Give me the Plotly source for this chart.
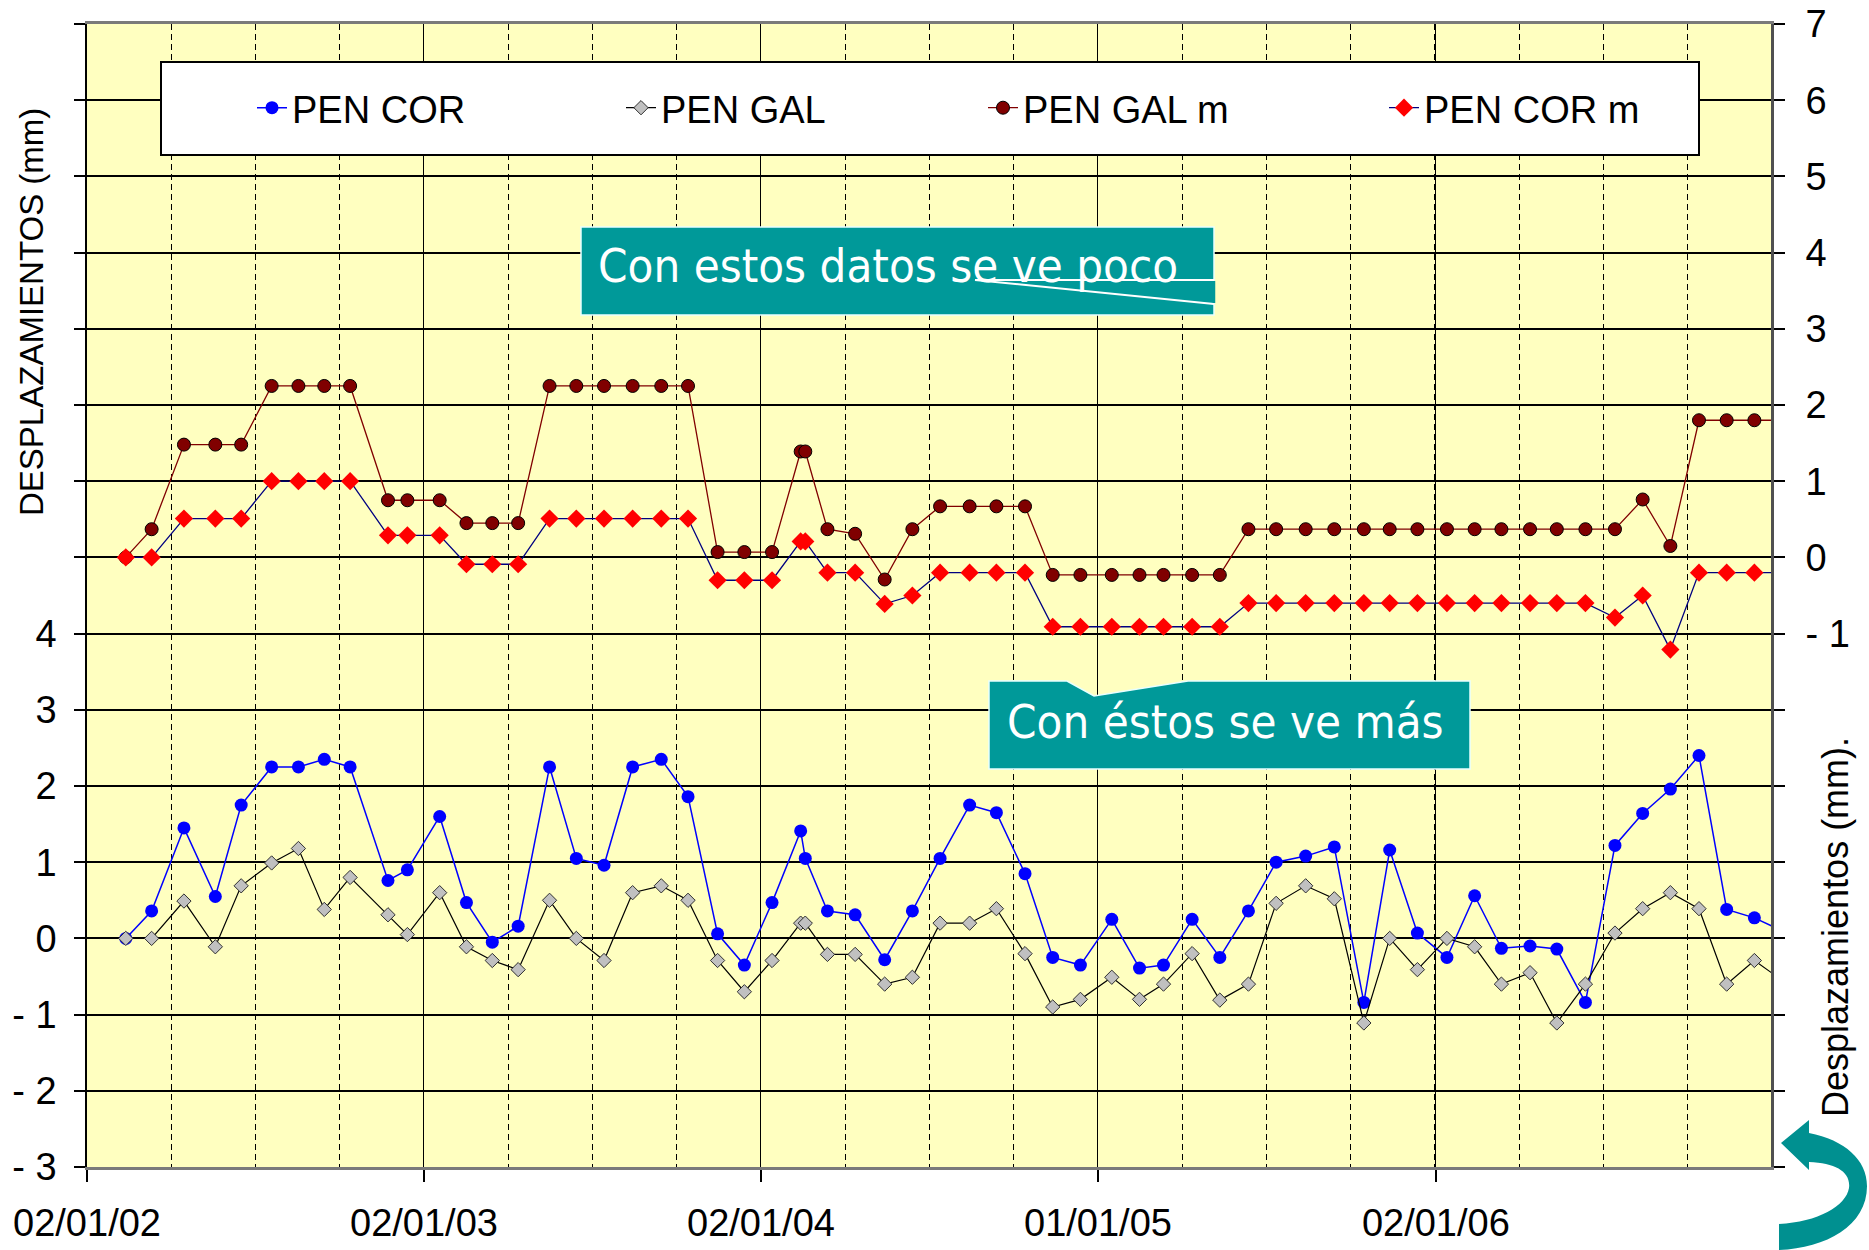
import plotly.graph_objects as go

# ---------------- data ----------------
dates = [
    "2002-02-13", "2002-03-13", "2002-04-17", "2002-05-21", "2002-06-18",
    "2002-07-21", "2002-08-19", "2002-09-16", "2002-10-14", "2002-11-24",
    "2002-12-15", "2003-01-19", "2003-02-17", "2003-03-17", "2003-04-14",
    "2003-05-18", "2003-06-16", "2003-07-16", "2003-08-16", "2003-09-16",
    "2003-10-15", "2003-11-16", "2003-12-15", "2004-01-14", "2004-02-14",
    "2004-02-19", "2004-03-14", "2004-04-13", "2004-05-15", "2004-06-14",
    "2004-07-14", "2004-08-15", "2004-09-13", "2004-10-14", "2004-11-13",
    "2004-12-13", "2005-01-16", "2005-02-15", "2005-03-13", "2005-04-13",
    "2005-05-13", "2005-06-13", "2005-07-13", "2005-08-14", "2005-09-14",
    "2005-10-16", "2005-11-13", "2005-12-13", "2006-01-14", "2006-02-13",
    "2006-03-14", "2006-04-14", "2006-05-13", "2006-06-13", "2006-07-15",
    "2006-08-14", "2006-09-13", "2006-10-14", "2006-11-13", "2006-12-13",
    "2007-01-12",
]

pen_cor = [
    0.00, 0.36, 1.45, 0.55, 1.75, 2.25, 2.25, 2.35, 2.25, 0.76,
    0.90, 1.60, 0.47, -0.05, 0.16, 2.25, 1.05, 0.96, 2.25, 2.35,
    1.86, 0.06, -0.35, 0.47, 1.41, 1.05, 0.36, 0.31, -0.28, 0.36,
    1.05, 1.75, 1.65, 0.85, -0.25, -0.35, 0.25, -0.39, -0.35, 0.25,
    -0.25, 0.36, 1.00, 1.08, 1.20, -0.84, 1.16, 0.07, -0.25, 0.56,
    -0.13, -0.10, -0.14, -0.84, 1.22, 1.64, 1.96, 2.40, 0.38, 0.27,
    0.10,
]

pen_gal = [
    0.00, 0.00, 0.49, -0.11, 0.69, 0.99, 1.18, 0.38, 0.80, 0.31,
    0.05, 0.60, -0.11, -0.29, -0.41, 0.50, 0.00, -0.29, 0.60, 0.69,
    0.50, -0.29, -0.70, -0.29, 0.20, 0.20, -0.21, -0.21, -0.60, -0.51,
    0.20, 0.20, 0.39, -0.20, -0.90, -0.80, -0.51, -0.80, -0.60, -0.20,
    -0.81, -0.60, 0.46, 0.69, 0.52, -1.11, 0.00, -0.41, 0.00, -0.11,
    -0.60, -0.45, -1.11, -0.60, 0.07, 0.39, 0.60, 0.39, -0.60, -0.29,
    -0.55,
]

pen_gal_m = [
    0.00, 0.37, 1.48, 1.48, 1.48, 2.25, 2.25, 2.25, 2.25, 0.75,
    0.75, 0.75, 0.45, 0.45, 0.45, 2.25, 2.25, 2.25, 2.25, 2.25,
    2.25, 0.07, 0.07, 0.07, 1.39, 1.39, 0.37, 0.31, -0.29, 0.37,
    0.67, 0.67, 0.67, 0.67, -0.23, -0.23, -0.23, -0.23, -0.23, -0.23,
    -0.23, 0.37, 0.37, 0.37, 0.37, 0.37, 0.37, 0.37, 0.37, 0.37,
    0.37, 0.37, 0.37, 0.37, 0.37, 0.76, 0.15, 1.80, 1.80, 1.80,
    1.80,
]

pen_cor_m = [
    0.00, 0.00, 0.51, 0.51, 0.51, 1.00, 1.00, 1.00, 1.00, 0.29,
    0.29, 0.29, -0.09, -0.09, -0.09, 0.51, 0.51, 0.51, 0.51, 0.51,
    0.51, -0.30, -0.30, -0.30, 0.21, 0.21, -0.20, -0.20, -0.61, -0.50,
    -0.20, -0.20, -0.20, -0.20, -0.91, -0.91, -0.91, -0.91, -0.91, -0.91,
    -0.91, -0.60, -0.60, -0.60, -0.60, -0.60, -0.60, -0.60, -0.60, -0.60,
    -0.60, -0.60, -0.60, -0.60, -0.79, -0.50, -1.21, -0.20, -0.20, -0.20,
    -0.20,
]

left_tick_vals = list(range(-3, 13))
left_tick_text = ["- 3", "- 2", "- 1", "0", "1", "2", "3", "4"] + [""] * 8
right_tick_vals = list(range(-8, 8))
right_tick_text = [""] * 7 + ["- 1", "0", "1", "2", "3", "4", "5", "6", "7"]
x_tick_vals = ["2002-01-02", "2003-01-02", "2004-01-02", "2005-01-01", "2006-01-02"]
x_tick_text = ["02/01/02", "02/01/03", "02/01/04", "01/01/05", "02/01/06"]
x_range = ["2002-01-02", "2006-12-31"]

# ---------------- geometry helpers ----------------
W, H = 1869, 1250
PL, PT, PR, PB = 87, 24, 1771, 1167   # plot area on screen
ML, MT = PL, PT
MR, MB = W - PR, H - PB
PW = PR - PL
PH = PB - PT


def px(x):
    return (x - PL) / PW


def py(y):
    return (PB - y) / PH


def path(cmds):
    out = []
    for c in cmds:
        if isinstance(c, str):
            out.append(c)
        else:
            out.append("%.5f,%.5f" % (px(c[0]), py(c[1])))
    return " ".join(out)


ARIAL = "Liberation Sans, Arial, sans-serif"
CALLOUT_FONT = "DejaVu Sans Condensed, Noto Sans, sans-serif"
TEAL = "#009999"

fig = go.Figure()
fig.add_trace(go.Scatter(
    x=dates, y=pen_cor, name="PEN COR", mode="lines+markers",
    line=dict(color="#0000FF", width=1.5),
    marker=dict(symbol="circle", size=13, color="#0000FF"),
    yaxis="y", legend="legend"))
fig.add_trace(go.Scatter(
    x=dates, y=pen_gal, name="PEN GAL", mode="lines+markers",
    line=dict(color="#000000", width=1.2),
    marker=dict(symbol="diamond", size=11, color="#C0C0C0",
                line=dict(color="#303030", width=1)),
    yaxis="y", legend="legend2"))
fig.add_trace(go.Scatter(
    x=dates, y=pen_gal_m, name="PEN GAL m", mode="lines+markers",
    line=dict(color="#800000", width=1.3),
    marker=dict(symbol="circle", size=13, color="#800000",
                line=dict(color="#000000", width=1)),
    yaxis="y2", legend="legend3"))
fig.add_trace(go.Scatter(
    x=dates, y=pen_cor_m, name="PEN COR m", mode="lines+markers",
    line=dict(color="#000080", width=1.3),
    marker=dict(symbol="diamond", size=14, color="#FF0000"),
    yaxis="y2", legend="legend4"))

tickfont = dict(family=ARIAL, size=38, color="black")

legend_common = dict(
    orientation="h", xanchor="left", yanchor="middle",
    bgcolor="rgba(0,0,0,0)", borderwidth=0,
    font=dict(family=ARIAL, size=38, color="black"),
)
leg_y = py(108)

shapes = [
    # legend box
    dict(type="rect", xref="paper", yref="paper",
         x0=px(161), x1=px(1699), y0=py(155), y1=py(62),
         fillcolor="white", line=dict(color="black", width=2), layer="above"),
    # callout 1 box
    dict(type="rect", xref="paper", yref="paper",
         x0=px(581), x1=px(1214), y0=py(315), y1=py(227),
         fillcolor=TEAL, line=dict(color="#E8FFFF", width=1.5), layer="above"),
    dict(type="path", xref="paper", yref="paper",
         path=path(["M", (975, 280), "L", (1214, 280)]),
         line=dict(color="white", width=2), layer="above"),
    dict(type="path", xref="paper", yref="paper",
         path=path(["M", (975, 280), "L", (1214, 304)]),
         line=dict(color="white", width=2), layer="above"),
    dict(type="path", xref="paper", yref="paper",
         path=path(["M", (1214, 281), "L", (1214, 303)]),
         line=dict(color=TEAL, width=2.5), layer="above"),
    # callout 2 with notch
    dict(type="path", xref="paper", yref="paper",
         path=path(["M", (989, 681), "L", (1067, 681), "L", (1094, 696),
                    "L", (1188, 681), "L", (1470, 681), "L", (1470, 769),
                    "L", (989, 769), "Z"]),
         fillcolor=TEAL, line=dict(color="#E8FFFF", width=1.5), layer="above"),
    # curved arrow
    dict(type="path", xref="paper", yref="paper",
         path=path(["M", (1781, 1143), "L", (1809, 1120), "L", (1809, 1133),
                    "C", (1845, 1140), (1867, 1160), (1867, 1186),
                    "C", (1867, 1226), (1826, 1248), (1779, 1250),
                    "L", (1779, 1224),
                    "C", (1818, 1222), (1846, 1206), (1849, 1188),
                    "C", (1851, 1172), (1836, 1163), (1809, 1162),
                    "L", (1809, 1170), "Z"]),
         fillcolor="#009090", line=dict(width=0), layer="above"),
]

annotations = [
    dict(text="DESPLAZAMIENTOS (mm)", xref="paper", yref="paper",
         x=px(31), y=py(312), textangle=-90, showarrow=False,
         xanchor="center", yanchor="middle",
         font=dict(family=ARIAL, size=33, color="black")),
    dict(text="Desplazamientos (mm).", xref="paper", yref="paper",
         x=px(1835), y=py(927), textangle=-90, showarrow=False,
         xanchor="center", yanchor="middle",
         font=dict(family=ARIAL, size=36, color="black")),
    dict(text="Con estos datos se ve poco", xref="paper", yref="paper",
         x=px(596), y=py(265), showarrow=False,
         xanchor="left", yanchor="middle",
         font=dict(family=CALLOUT_FONT, size=47, color="white")),
    dict(text="Con éstos se ve más", xref="paper", yref="paper",
         x=px(1005), y=py(721), showarrow=False,
         xanchor="left", yanchor="middle",
         font=dict(family=CALLOUT_FONT, size=47, color="white")),
]

fig.update_layout(
    width=W, height=H,
    margin=dict(l=ML, r=MR, t=MT, b=MB, pad=0, autoexpand=False),
    paper_bgcolor="white",
    plot_bgcolor="#FFFFC0",
    showlegend=True,
    legend=dict(legend_common, x=px(252), y=leg_y),
    legend2=dict(legend_common, x=px(621), y=leg_y),
    legend3=dict(legend_common, x=px(983), y=leg_y),
    legend4=dict(legend_common, x=px(1384), y=leg_y),
    xaxis=dict(
        type="date", range=x_range, automargin=False,
        tickmode="array", tickvals=x_tick_vals, ticktext=x_tick_text,
        ticks="outside", ticklen=12, tickwidth=1.5, tickcolor="black",
        tickfont=tickfont, ticklabelstandoff=9, ticklabeloverflow="allow",
        showgrid=True, gridcolor="black", gridwidth=1.3,
        showline=True, linecolor="#7a7a7a", linewidth=2.5, mirror=True,
        zeroline=False,
        minor=dict(tickmode="linear", tick0="2002-01-02",
                   dtick=91.25 * 86400000, showgrid=True,
                   gridcolor="black", gridwidth=1.2, griddash="6px,4px",
                   ticks=""),
    ),
    yaxis=dict(
        range=[-3, 12], tickmode="array", automargin=False,
        tickvals=left_tick_vals, ticktext=left_tick_text,
        ticks="outside", ticklen=11, tickwidth=1.5, tickcolor="black",
        tickfont=tickfont, ticklabelstandoff=10, ticklabeloverflow="allow",
        showgrid=True, gridcolor="black", gridwidth=1.6,
        showline=True, linecolor="black", linewidth=1.5,
        zeroline=False,
    ),
    yaxis2=dict(
        range=[-8, 7], overlaying="y", side="right", tickmode="array",
        automargin=False,
        tickvals=right_tick_vals, ticktext=right_tick_text,
        ticks="outside", ticklen=11, tickwidth=1.5, tickcolor="black",
        tickfont=tickfont, ticklabelstandoff=13, ticklabeloverflow="allow",
        showgrid=False, showline=True, linecolor="#505050", linewidth=3,
        zeroline=False,
    ),
    shapes=shapes,
    annotations=annotations,
)

fig.write_html("out.html",
               config={"displayModeBar": False},
               post_script="document.body.style.margin='0';"
                           "document.body.style.overflow='hidden';")
